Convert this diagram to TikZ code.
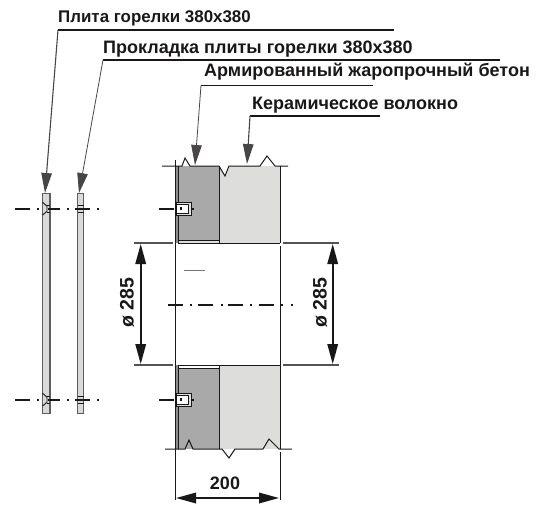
\documentclass[tikz,border=0pt]{standalone}
\usepackage{fontspec}
\setmainfont{Liberation Sans}
\usetikzlibrary{arrows.meta}
\definecolor{ink}{HTML}{1A1718}
\definecolor{concrete}{HTML}{A9A9A9}
\definecolor{fibre}{HTML}{DDDDDB}
\definecolor{plate}{HTML}{D9D9D7}
\definecolor{strip}{HTML}{8C8C8C}
\tikzset{
  x=1pt,y=-1pt,
  label text/.style={anchor=west,inner sep=0pt,font=\bfseries\fontsize{18}{20}\selectfont,text=ink},
  short label/.style={anchor=west,inner sep=0pt,font=\bfseries\fontsize{16.9}{20}\selectfont,text=ink},
  dim text/.style={inner sep=0pt,font=\bfseries\fontsize{18}{20}\selectfont,text=ink},
  rot text/.style={inner sep=0pt,rotate=90,font=\bfseries\fontsize{19.5}{21}\selectfont,text=ink},
  leader/.style={draw=ink,line width=1.3pt,line join=miter},
  leader thin/.style={draw=ink!80,line width=0.8pt},
  bigarrow/.style={-{Triangle[length=20pt,width=10.5pt]}},
  dim/.style={draw=ink,line width=1.7pt,{Triangle[length=20pt,width=10.5pt]}-{Triangle[length=20pt,width=10.5pt]}},
  edge line/.style={draw=ink,line width=1pt},
  tick/.style={draw=ink!75,line width=1.2pt},
  axis/.style={draw=ink,line width=1.6pt},
  platebody/.style={fill=plate,draw=ink!70,line width=1.1pt},
  boss/.style={draw=ink,line width=0.9pt}
}
\begin{document}
\begin{tikzpicture}
\useasboundingbox (0,0) rectangle (538,504);
% --- labels
\node[short label] (l1) at (58,18) {Плита горелки 380x380};
\node[label text] (l2) at (103,49) {Прокладка плиты горелки 380x380};
\node[label text] (l3) at (204,72) {Армированный жаропрочный бетон};
\node[label text] (l4) at (252,105) {Керамическое волокно};
% --- leader anchors
\coordinate (k1) at (58,30);   \coordinate (e1) at (394,30);  \coordinate (t1) at (45,193);
\coordinate (k2) at (103,60);  \coordinate (e2) at (500,60);  \coordinate (t2) at (79,193);
\coordinate (k3) at (201,85.5);\coordinate (e3) at (373,85.5);\coordinate (t3) at (195,165);
\coordinate (k4) at (250,116); \coordinate (e4) at (380,116); \coordinate (t4) at (247,164);
\draw[leader] (e1) -- (k1);
\draw[leader thin,line width=1.1pt,bigarrow] (k1) -- (t1);
\draw[leader] (e2) -- (k2);
\draw[leader thin,bigarrow] (k2) -- (t2);
\draw[leader] (e3) -- (k3);
\draw[leader thin,bigarrow] (k3) -- (t3);
\draw[leader] (e4) -- (k4);
\draw[leader thin,line width=1.1pt,bigarrow] (k4) -- (t4);
% --- plates
\path[platebody] (42.5,193.5) rectangle (50,413.5);
\path[platebody] (77.5,193.5) rectangle (83.5,413.5);
% --- block fills
\fill[concrete] (178,166) rectangle (219.5,243);
\fill[fibre] (219.5,166) -- (225,176) -- (229,166) -- (280,166) -- (280,243) -- (219.5,243) -- cycle;
\fill[concrete] (178,368) rectangle (219.5,449);
\fill[fibre] (219.5,365) rectangle (280,449);
\fill[white] (178,365) rectangle (219.5,368);
\fill[strip] (175,166) rectangle (178,243);
\fill[strip] (175,365) rectangle (178,449);
\fill[fibre] (178,240) rectangle (219.5,243);
% --- block edges
\draw[edge line] (162,166) -- (182,166) -- (185,158) -- (190,166) -- (219,166) -- (225,176) -- (229,166) -- (260,166) -- (267,156) -- (275,166) -- (288,166);
\draw[edge line] (165,449) -- (185,449) -- (189,440) -- (193,449) -- (222,449) -- (229,458) -- (235,449) -- (263,449) -- (269,439) -- (279,449) -- (292,449);
\draw[edge line] (219.5,166) -- (219.5,243);
\draw[edge line] (219.5,365) -- (219.5,449);
\draw[edge line] (178,166) -- (178,243) -- (280,243);
\draw[edge line] (178,240) -- (219.5,240);
\draw[edge line] (178,449) -- (178,365) -- (280,365);
\draw[edge line] (178,368) -- (219.5,368);
\draw[edge line] (175,160) -- (175,500);
\draw[edge line] (280,166) -- (280,243);
\draw[edge line] (280,246) -- (280,449);
\draw[edge line] (280,452) -- (280,500);
% --- dimension ticks
\draw[tick] (134,243) -- (173,243);
\draw[tick] (134,365) -- (173,365);
\draw[tick] (283,243) -- (339,243);
\draw[tick] (283,365) -- (339,365);
\draw[draw=ink!60,line width=0.9pt] (184,270.7) -- (205,270.7);
% --- dimensions
\coordinate (a1) at (140.7,244); \coordinate (a2) at (140.7,364);
\coordinate (b1) at (332.7,244); \coordinate (b2) at (332.7,364);
\coordinate (c1) at (176,498);   \coordinate (c2) at (279,498);
\draw[dim] (a1) -- (a2);
\draw[dim] (b1) -- (b2);
\draw[dim] (c1) -- (c2);
\node[rot text] (d1) at (127,302.5) {ø 285};
\node[rot text] (d2) at (320,302.5) {ø 285};
\node[dim text] (d3) at (225,483) {200};
% --- centre line
\foreach \u/\v in {168/183,190/192,198/213,220.5/222.5,228/243,250/252,259/274,281/283,291/293}
  \draw[axis] (\u,305) -- (\v,305);
% --- fasteners and their axes
\foreach \yy in {208.7,399.7}{
  \foreach \u/\v in {15/30,37/39,48/60,67/69,75/90,97/99,159/174,189/194}
    \draw[axis] (\u,\yy) -- (\v,\yy);
  % plate 1 recess
  \draw[boss] (42.5,\yy-6.5) -- (47,\yy-2.5) -- (47,\yy+2.5) -- (42.5,\yy+6.5);
  \draw[boss] (47,\yy-3.5) -- (50,\yy-3.5) (47,\yy+3.5) -- (50,\yy+3.5);
  % plate 2 hole
  \draw[boss] (77.5,\yy-3.5) -- (83.5,\yy-3.5) (77.5,\yy+3.5) -- (83.5,\yy+3.5);
  % bolt in the block
  \draw[boss,fill=fibre] (176,\yy-6.5) rectangle (191.5,\yy+6.5);
  \draw[boss,fill=white] (176,\yy-4.5) rectangle (188,\yy+4.5);
  \fill[ink] (179.7,\yy-1.3) rectangle (182.3,\yy+1.3);
}
\end{tikzpicture}
\end{document}
